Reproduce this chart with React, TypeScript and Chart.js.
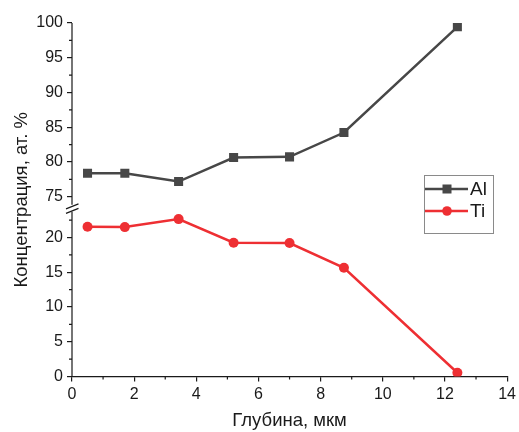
import { useEffect, useRef } from 'react';
import { Chart, registerables } from 'chart.js';

Chart.register(...registerables);

const depth = [0.5, 1.7, 3.43, 5.2, 7.0, 8.75, 12.4];
const alValues = [78.4, 78.4, 77.2, 80.65, 80.75, 84.25, 99.45];
const tiValues = [21.55, 21.5, 22.65, 19.25, 19.2, 15.65, 0.55];

const xTicks = [0, 2, 4, 6, 8, 10, 12, 14];
const xMinorTicks = [1, 3, 5, 7, 9, 11, 13];
const topTicks = [75, 80, 85, 90, 95, 100];
const topMinorTicks = [77.5, 82.5, 87.5, 92.5, 97.5];
const bottomTicks = [0, 5, 10, 15, 20];
const bottomMinorTicks = [2.5, 7.5, 12.5, 17.5, 22.5];

const xTitle = 'Глубина, мкм';
const yTitle = 'Концентрация, ат. %';

const AL_COLOR = '#474747';
const TI_COLOR = '#ee2f33';
const AXIS_COLOR = '#1a1a1a';
const FONT = '"Liberation Sans", Arial, sans-serif';

const TOP_MIN = 73.35;
const TOP_MAX = 100;
const BOT_MIN = 0;
const BOT_MAX = 24.2;

const decorPlugin = {
  id: 'decor',
  afterDraw(chart: any) {
    const ctx = chart.ctx;
    const { left, top, bottom } = chart.chartArea;
    const sx = chart.scales.x;
    const st = chart.scales.yTop;
    const sb = chart.scales.yBot;
    const mid = sb.top;
    ctx.save();
    ctx.strokeStyle = AXIS_COLOR;
    ctx.lineWidth = 1.2;
    // broken y axis line
    ctx.beginPath();
    ctx.moveTo(left, st.getPixelForValue(TOP_MAX));
    ctx.lineTo(left, mid - 3.5);
    ctx.moveTo(left, mid + 3.5);
    ctx.lineTo(left, sb.getPixelForValue(BOT_MIN));
    ctx.stroke();
    // break marks
    ctx.beginPath();
    ctx.moveTo(left - 6, mid + 0.5);
    ctx.lineTo(left + 6.5, mid - 4.5);
    ctx.moveTo(left - 6, mid + 5);
    ctx.lineTo(left + 6.5, mid);
    ctx.stroke();
    // minor ticks
    ctx.beginPath();
    xMinorTicks.forEach((v) => {
      const px = sx.getPixelForValue(v);
      ctx.moveTo(px, bottom);
      ctx.lineTo(px, bottom + 3);
    });
    topMinorTicks.forEach((v) => {
      const py = st.getPixelForValue(v);
      ctx.moveTo(left, py);
      ctx.lineTo(left - 3, py);
    });
    bottomMinorTicks.forEach((v) => {
      const py = sb.getPixelForValue(v);
      ctx.moveTo(left, py);
      ctx.lineTo(left - 3, py);
    });
    ctx.stroke();
    // y title
    ctx.save();
    ctx.translate(22, (top + bottom) / 2);
    ctx.rotate(-Math.PI / 2);
    ctx.fillStyle = AXIS_COLOR;
    ctx.font = '18.5px ' + FONT;
    ctx.textAlign = 'center';
    ctx.textBaseline = 'middle';
    ctx.fillText(yTitle, 0, 0);
    ctx.restore();
    // legend
    const bx = 424;
    const by = 175;
    const bw = 69;
    const bh = 58;
    ctx.fillStyle = '#ffffff';
    ctx.fillRect(bx, by, bw, bh);
    ctx.strokeStyle = '#8a8a8a';
    ctx.lineWidth = 1;
    ctx.strokeRect(bx + 0.5, by + 0.5, bw, bh);
    chart.data.datasets.forEach((ds: any, i: number) => {
      const ry = by + 14 + i * 22;
      ctx.strokeStyle = ds.borderColor;
      ctx.fillStyle = ds.borderColor;
      ctx.lineWidth = 2.5;
      ctx.beginPath();
      ctx.moveTo(bx + 1, ry);
      ctx.lineTo(bx + 44, ry);
      ctx.stroke();
      const mx = bx + 23;
      if (ds.pointStyle === 'rect') {
        ctx.fillRect(mx - 4.5, ry - 4.5, 9, 9);
      } else {
        ctx.beginPath();
        ctx.arc(mx, ry, 4.8, 0, Math.PI * 2);
        ctx.fill();
      }
      ctx.fillStyle = AXIS_COLOR;
      ctx.font = '19px ' + FONT;
      ctx.textAlign = 'left';
      ctx.textBaseline = 'middle';
      ctx.fillText(ds.label, bx + 46, ry + 1);
    });
    ctx.restore();
  },
};

export default function App() {
  const ref = useRef<HTMLCanvasElement | null>(null);
  useEffect(() => {
    if (!ref.current) return;
    const tickFont = { size: 16, family: FONT };
    const chart = new Chart(ref.current, {
      type: 'line',
      data: {
        datasets: [
          {
            label: 'Al',
            data: depth.map((x, i) => ({ x, y: alValues[i] })),
            yAxisID: 'yTop',
            borderColor: AL_COLOR,
            backgroundColor: AL_COLOR,
            pointBackgroundColor: AL_COLOR,
            pointBorderColor: AL_COLOR,
            pointStyle: 'rect',
            pointRadius: 6.4,
            pointBorderWidth: 0,
            borderWidth: 2.5,
          },
          {
            label: 'Ti',
            data: depth.map((x, i) => ({ x, y: tiValues[i] })),
            yAxisID: 'yBot',
            borderColor: TI_COLOR,
            backgroundColor: TI_COLOR,
            pointBackgroundColor: TI_COLOR,
            pointBorderColor: TI_COLOR,
            pointStyle: 'circle',
            pointRadius: 5,
            pointBorderWidth: 0,
            borderWidth: 2.5,
          },
        ],
      },
      options: {
        animation: false,
        responsive: false,
        layout: { padding: { top: 23, right: 7, bottom: 0, left: 0 } },
        plugins: { legend: { display: false }, tooltip: { enabled: false } },
        scales: {
          x: {
            type: 'linear',
            min: 0,
            max: 14,
            afterBuildTicks: (s: any) => {
              s.ticks = xTicks.map((value) => ({ value }));
            },
            grid: { drawOnChartArea: false, drawTicks: true, tickLength: 5, color: AXIS_COLOR, lineWidth: 1.2 },
            border: { color: AXIS_COLOR, width: 1.2 },
            ticks: { font: tickFont, color: AXIS_COLOR, padding: 3, maxRotation: 0, autoSkip: false },
            title: {
              display: true,
              text: xTitle,
              color: AXIS_COLOR,
              font: { size: 18.5, family: FONT },
              padding: { top: 3, bottom: 0 },
            },
          },
          yBot: {
            type: 'linear',
            position: 'left',
            stack: 'y',
            stackWeight: BOT_MAX - BOT_MIN,
            min: BOT_MIN,
            max: BOT_MAX,
            afterBuildTicks: (s: any) => {
              s.ticks = bottomTicks.map((value) => ({ value }));
            },
            afterFit: (s: any) => {
              s.width = 72;
            },
            grid: { drawOnChartArea: false, drawTicks: true, tickLength: 5, color: AXIS_COLOR, lineWidth: 1.2 },
            border: { display: false },
            ticks: { font: tickFont, color: AXIS_COLOR, padding: 4, autoSkip: false },
          },
          yTop: {
            type: 'linear',
            position: 'left',
            stack: 'y',
            stackWeight: TOP_MAX - TOP_MIN,
            min: TOP_MIN,
            max: TOP_MAX,
            afterBuildTicks: (s: any) => {
              s.ticks = topTicks.map((value) => ({ value }));
            },
            afterFit: (s: any) => {
              s.width = 72;
            },
            grid: { drawOnChartArea: false, drawTicks: true, tickLength: 5, color: AXIS_COLOR, lineWidth: 1.2 },
            border: { display: false },
            ticks: { font: tickFont, color: AXIS_COLOR, padding: 4, autoSkip: false },
          },
        },
      },
      plugins: [decorPlugin],
    } as any);
    return () => chart.destroy();
  }, []);
  return (
    <div style={{ position: 'absolute', left: 0, top: 0, width: 519, height: 432, background: '#fff' }}>
      <canvas ref={ref} width={519} height={432} style={{ display: 'block' }} />
    </div>
  );
}
